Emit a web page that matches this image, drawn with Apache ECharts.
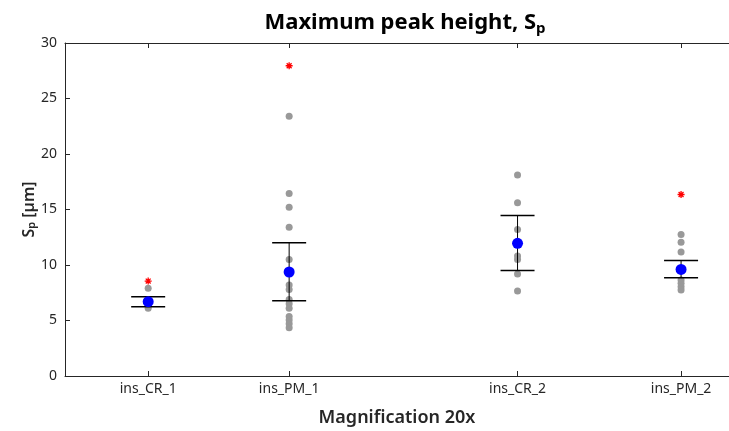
<!DOCTYPE html>
<html><head><meta charset="utf-8">
<script src="https://cdn.jsdelivr.net/npm/echarts@6/dist/echarts.min.js"></script>
<style>html,body{margin:0;padding:0;background:#fff}#c{width:729px;height:431px}</style>
</head><body><div id="c"></div>
<script>
const categories = ['ins_CR_1', 'ins_PM_1', 'ins_CR_2', 'ins_PM_2'];
const catPos = [1, 2, 3.62, 4.78];
const ptsCR1 = [7.9, 6.9, 6.6, 6.3, 6.1];
const ptsPM1 = [23.4, 16.45, 15.2, 13.4, 10.5, 8.2, 7.8, 6.9, 6.5, 6.1, 5.35, 5.05, 4.7, 4.35];
const ptsCR2 = [18.1, 15.6, 13.2, 11.9, 10.8, 10.5, 9.2, 7.65];
const ptsPM2 = [12.75, 12.05, 11.17, 9.6, 8.65, 8.35, 8.05, 7.75];
const means = [6.7, 9.37, 11.95, 9.6];
const errLow = [6.24, 6.78, 9.5, 8.85];
const errHigh = [7.14, 12.0, 14.45, 10.4];
const outlierCat = [0, 1, 3];
const outlierVal = [8.55, 27.95, 16.35];
const yTicks = [0, 5, 10, 15, 20, 25, 30];

const allPts = [ptsCR1, ptsPM1, ptsCR2, ptsPM2];
const grayData = [];
allPts.forEach((arr, i) => arr.forEach(v => grayData.push([catPos[i], v])));
const meanData = means.map((v, i) => [catPos[i], v]);
const errData = means.map((v, i) => [catPos[i], errLow[i], errHigh[i]]);
const outData = outlierVal.map((v, i) => [catPos[outlierCat[i]], v]);

const font = '"Noto Sans", "Open Sans", sans-serif';
const chart = echarts.init(document.getElementById('c'));
chart.setOption({
  animation: false,
  title: {
    text: '{a|Maximum peak height, S}{b|p}',
    left: 400, top: 5, textAlign: 'center',
    textStyle: {
      rich: {
        a: { fontFamily: font, fontSize: 22, fontWeight: 'bold', color: '#000' },
        b: { fontFamily: font, fontSize: 15, fontWeight: 'bold', color: '#000', padding: [11, 0, 0, 0] }
      }
    }
  },
  grid: { left: 65, right: 0, top: 43, bottom: 55, containLabel: false, outerBoundsMode: 'none' },
  xAxis: [{
    type: 'value', min: 0.41, max: 5.12,
    name: 'Magnification 20x', nameLocation: 'middle', nameGap: 33, nameMoveOverlap: false,
    nameTextStyle: { fontFamily: font, fontSize: 18, fontWeight: 600, color: '#262626' },
    axisLine: { show: true, lineStyle: { color: '#262626', width: 1 } },
    axisTick: { show: true, inside: true, length: 5, customValues: catPos, lineStyle: { color: '#262626' } },
    axisLabel: {
      customValues: catPos, margin: 6,
      formatter: v => { const i = catPos.findIndex(p => Math.abs(p - v) < 1e-6); return i >= 0 ? categories[i] : ''; },
      fontFamily: font, fontSize: 14, fontWeight: 'normal', color: '#262626'
    },
    splitLine: { show: false }
  }, {
    type: 'value', position: 'top', min: 0.41, max: 5.12,
    axisLine: { show: true, lineStyle: { color: '#262626', width: 1 } },
    axisTick: { show: true, inside: true, length: 5, customValues: catPos, lineStyle: { color: '#262626' } },
    axisLabel: { show: false }, splitLine: { show: false }
  }],
  yAxis: {
    type: 'value', min: 0, max: 30, interval: 5,
    name: '{a|S}{b|p}{a| [µm]}', nameLocation: 'middle', nameGap: 28, nameRotate: 90, nameMoveOverlap: false,
    nameTextStyle: {
      rich: {
        a: { fontFamily: font, fontSize: 16, fontWeight: 600, color: '#262626' },
        b: { fontFamily: font, fontSize: 11, fontWeight: 600, color: '#262626', padding: [0, 0, -6, 0] }
      }
    },
    axisLine: { show: true, lineStyle: { color: '#262626', width: 1 } },
    axisTick: { show: true, inside: true, length: 5, lineStyle: { color: '#262626' } },
    axisLabel: { customValues: yTicks, fontFamily: font, fontSize: 14, fontWeight: 'normal', color: '#262626', margin: 8 },
    splitLine: { show: false }
  },
  series: [
    { type: 'scatter', data: grayData, symbol: 'circle', symbolSize: 7, itemStyle: { color: '#999999', opacity: 1 }, z: 2 },
    {
      type: 'custom', data: errData, z: 3,
      renderItem: (params, api) => {
        const x = api.value(0);
        const lo = api.coord([x, api.value(1)]);
        const hi = api.coord([x, api.value(2)]);
        const hw = 17;
        return {
          type: 'group', children: [
            { type: 'line', shape: { x1: lo[0], y1: lo[1], x2: hi[0], y2: hi[1] }, style: { stroke: '#000', lineWidth: 1 } },
            { type: 'line', shape: { x1: lo[0] - hw, y1: lo[1], x2: lo[0] + hw, y2: lo[1] }, style: { stroke: '#000', lineWidth: 1.5 } },
            { type: 'line', shape: { x1: hi[0] - hw, y1: hi[1], x2: hi[0] + hw, y2: hi[1] }, style: { stroke: '#000', lineWidth: 1.5 } }
          ]
        };
      }
    },
    { type: 'scatter', data: meanData, symbol: 'circle', symbolSize: 11, itemStyle: { color: '#0000ff', opacity: 1 }, z: 4 },
    {
      type: 'scatter', data: outData, z: 5,
      symbol: 'path://M5,0L5,10M0,5L10,5M1.5,1.5L8.5,8.5M1.5,8.5L8.5,1.5', symbolSize: 7,
      itemStyle: { color: 'none', borderColor: '#ff0000', borderWidth: 1.3, opacity: 1 }
    }
  ]
});
</script></body></html>
